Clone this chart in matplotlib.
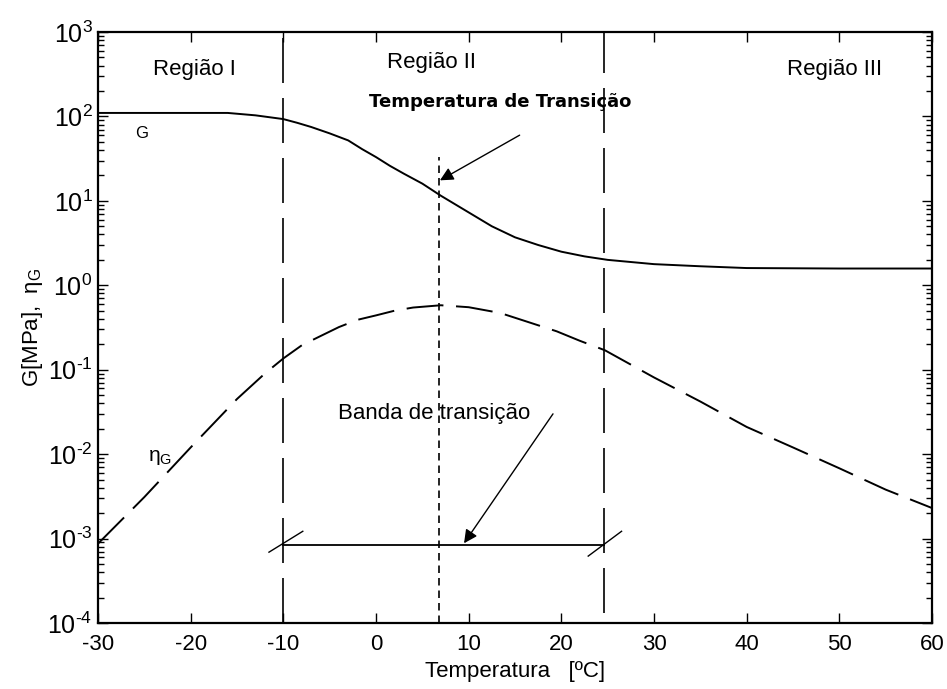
import numpy as np
import matplotlib.pyplot as plt
from matplotlib.ticker import LogLocator, FixedLocator

plt.rcParams['font.family'] = ['Liberation Sans', 'DejaVu Sans']
plt.rcParams['mathtext.fontset'] = 'custom'
plt.rcParams['mathtext.rm'] = 'Liberation Sans'
plt.rcParams['mathtext.it'] = 'Liberation Sans'
plt.rcParams['axes.unicode_minus'] = False

# dados
temp_G = [-30, -20, -16, -13, -10, -8.5, -7, -5, -3, -1.5, 0, 1.5, 3, 5, 7, 10,
          12.5, 15, 17.5, 20, 22.5, 25, 30, 35, 40, 50, 60]
G = [110, 110, 110, 103, 93, 84, 75, 63, 52, 41, 33, 26, 21, 16, 11.5, 7.3,
     5.0, 3.7, 3.0, 2.5, 2.2, 2.0, 1.78, 1.68, 1.6, 1.58, 1.58]

temp_eta = [-30, -25, -20, -15, -12, -10, -8, -6, -4, -2, 0, 2, 4, 7, 10, 13.4,
            16, 19.5, 22, 24.7, 30, 35, 40, 45, 50, 55, 60]
eta = [8.7e-4, 3.1e-3, 0.012, 0.045, 0.09, 0.136, 0.195, 0.25, 0.32, 0.39,
       0.44, 0.50, 0.545, 0.58, 0.55, 0.47, 0.38, 0.285, 0.22, 0.17, 0.081,
       0.042, 0.021, 0.012, 0.0068, 0.0038, 0.0023]

t_inicio = -10
t_fim = 24.6
t_transicao = 6.8
banda_y = 8.3e-4

xticks = [-30, -20, -10, 0, 10, 20, 30, 40, 50, 60]
yticks = [1e-4, 1e-3, 1e-2, 1e-1, 1e0, 1e1, 1e2, 1e3]
ytick_labels = [r'$10^{\text{-}4}$', r'$10^{\text{-}3}$', r'$10^{\text{-}2}$',
                r'$10^{\text{-}1}$', r'$10^{0}$', r'$10^{1}$', r'$10^{2}$', r'$10^{3}$']

fig = plt.figure(figsize=(9.47, 6.89), dpi=100)
ax = fig.add_axes([98 / 947, 1 - 623 / 689, (932 - 98) / 947, (623 - 32) / 689])

ax.plot(temp_G, G, color='black', lw=1.4)
ax.plot(temp_eta, eta, color='black', lw=1.4, linestyle=(0, (19, 6.5)))

# linhas das regioes
ax.plot([t_inicio, t_inicio], [1e-4, 1e3], color='black', lw=1.2, linestyle=(0, (27, 9)))
ax.plot([t_fim, t_fim], [1.3e-4, 1e3], color='black', lw=1.2, linestyle=(0, (27, 9)))
ax.plot([t_transicao, t_transicao], [1e-4, 33], color='black', lw=1.2, linestyle=(0, (4.5, 3)))

# banda de transicao
ax.plot([t_inicio, t_fim], [banda_y, banda_y], color='black', lw=1.3)
ax.plot([-11.55, -7.9], [6.9e-4, 1.22e-3], color='black', lw=1.0)
ax.plot([22.9, 26.5], [6.2e-4, 1.22e-3], color='black', lw=1.0)

ax.annotate('', xy=(6.9, 17.5), xytext=(15.5, 60),
            arrowprops=dict(arrowstyle='-|>', color='black', lw=1.0,
                            mutation_scale=20, shrinkA=0, shrinkB=0))
ax.annotate('', xy=(9.5, 8.8e-4), xytext=(19.1, 0.030),
            arrowprops=dict(arrowstyle='-|>', color='black', lw=1.0,
                            mutation_scale=20, shrinkA=0, shrinkB=0))

ax.text(-19.6, 355, 'Região I', fontsize=16, ha='center', va='center')
ax.text(6.0, 440, 'Região II', fontsize=16, ha='center', va='center')
ax.text(49.5, 355, 'Região III', fontsize=16, ha='center', va='center')
ax.text(13.4, 147, 'Temperatura de Transição', fontsize=13, fontweight='bold',
        family='DejaVu Sans', ha='center', va='center')
ax.text(-25.3, 63, 'G', fontsize=12, ha='center', va='center')
ax.text(-23.3, 0.0091, r'$\mathrm{\eta_G}$', fontsize=15, ha='center', va='center')
ax.text(6.25, 0.030, 'Banda de transição', fontsize=16, ha='center', va='center')

ax.set_yscale('log')
ax.set_xlim(-30, 60)
ax.set_ylim(1e-4, 1e3)
ax.xaxis.set_major_locator(FixedLocator(xticks))
ax.set_yticks(yticks)
ax.set_yticklabels(ytick_labels)
ax.yaxis.set_minor_locator(LogLocator(base=10, subs=np.arange(2, 10)))
ax.tick_params(which='both', direction='in', top=True, right=True)
ax.tick_params(axis='x', labelsize=16, pad=8)
ax.tick_params(axis='y', labelsize=18, pad=4)
ax.tick_params(which='major', length=7, width=1)
ax.tick_params(which='minor', length=4, width=1)
for s in ax.spines.values():
    s.set_linewidth(1.6)

ax.set_xlabel('Temperatura   [ºC]', fontsize=16, labelpad=4)
ax.set_ylabel(r'G[MPa],  $\mathrm{\eta_G}$', fontsize=16, labelpad=2)

fig.savefig('out.png', dpi=100)
